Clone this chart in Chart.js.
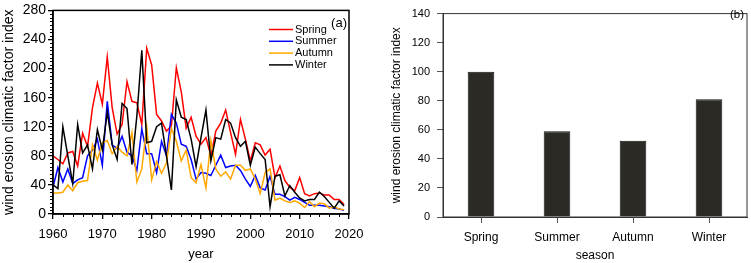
<!DOCTYPE html>
<html>
<head>
<meta charset="utf-8">
<script src="https://cdn.jsdelivr.net/npm/chart.js@4.4.0/dist/chart.umd.min.js"></script>
<style>
  html, body { margin: 0; padding: 0; background: #fff; }
  #wrap { position: relative; width: 751px; height: 263px; overflow: hidden; }
  #lineChart { position: absolute; left: 0; top: 0; }
  #barChart { position: absolute; left: 380px; top: 0; }
</style>
</head>
<body>
<div id="wrap">
  <canvas id="lineChart" width="375" height="263"></canvas>
  <canvas id="barChart" width="371" height="263"></canvas>
</div>
<script>
// data (a) - yearly index per season
var years = [1960, 1961, 1962, 1963, 1964, 1965, 1966, 1967, 1968, 1969,
             1970, 1971, 1972, 1973, 1974, 1975, 1976, 1977, 1978, 1979,
             1980, 1981, 1982, 1983, 1984, 1985, 1986, 1987, 1988, 1989,
             1990, 1991, 1992, 1993, 1994, 1995, 1996, 1997, 1998, 1999,
             2000, 2001, 2002, 2003, 2004, 2005, 2006, 2007, 2008, 2009,
             2010, 2011, 2012, 2013, 2014, 2015, 2016, 2017, 2018, 2019];

var spring = [80, 75, 69, 84, 86, 66, 111, 93, 146, 180,
              151, 216, 146, 110, 123, 182, 155, 153, 123, 228,
              205, 137, 128, 114, 121, 201, 168, 118, 133, 107,
              96, 105, 80, 114, 125, 143, 112, 82, 130, 103,
              73, 98, 95, 81, 89, 50, 66, 46, 37, 32,
              50, 28, 25, 28, 29, 26, 26, 20, 20, 13];

var summer = [37, 64, 44, 62, 42, 47, 50, 80, 88, 103,
              67, 155, 95, 90, 107, 85, 80, 60, 117, 83,
              83, 57, 100, 80, 137, 125, 96, 93, 75, 48,
              57, 56, 53, 67, 81, 64, 66, 67, 60, 48,
              38, 53, 36, 33, 52, 27, 27, 24, 19, 23,
              20, 16, 12, 12, 12, 11, 10, 8, 7, 5];

var autumn = [29, 29, 30, 40, 32, 43, 45, 46, 95, 74,
              98, 101, 83, 93, 85, 80, 112, 44, 62, 120,
              47, 72, 56, 70, 118, 100, 73, 88, 50, 43,
              68, 36, 101, 62, 52, 58, 48, 67, 67, 60,
              62, 48, 28, 57, 62, 19, 22, 18, 16, 18,
              15, 9, 17, 10, 15, 14, 8, 10, 7, 6];

var winter = [40, 35, 120, 80, 42, 123, 84, 95, 62, 116,
              88, 140, 95, 75, 152, 145, 68, 135, 225, 98,
              100, 120, 125, 80, 33, 157, 133, 130, 103, 65,
              105, 143, 73, 105, 103, 130, 125, 105, 93, 100,
              67, 92, 83, 75, 10, 52, 54, 25, 39, 30,
              22, 18, 20, 20, 30, 24, 16, 8, 18, 11];

var seriesNames = ['Spring', 'Summer', 'Autumn', 'Winter'];
var seriesColors = ['#ff0000', '#0000ff', '#ffa800', '#000000'];

// data (b) - seasonal mean
var seasons = ['Spring', 'Summer', 'Autumn', 'Winter'];
var seasonMean = [100, 59, 52.5, 81];

var yTicksA = [0, 280, 40];   // min, max, step
var yTicksB = [0, 140, 20];

var FONT = "'Liberation Sans', Arial, Helvetica, sans-serif";

function toPoints(vals) {
  return vals.map(function (v, i) { return { x: years[i], y: v }; });
}

// box around the plot area
var frame = {
  id: 'frame',
  afterDraw: function (chart, args, opts) {
    var a = chart.chartArea, ctx = chart.ctx;
    ctx.save();
    ctx.strokeStyle = opts.color || '#000';
    ctx.lineWidth = opts.width || 1;
    ctx.strokeRect(a.left, a.top, a.right - a.left, a.bottom - a.top);
    ctx.restore();
  }
};

// small ticks between the labelled ones (panel a)
var minorTicks = {
  id: 'minorTicks',
  afterDraw: function (chart) {
    var ctx = chart.ctx, xs = chart.scales.x, ys = chart.scales.y;
    var a = chart.chartArea;
    ctx.save();
    ctx.strokeStyle = '#000';
    ctx.lineWidth = 1;
    ctx.beginPath();
    for (var v = 5; v < 280; v += 5) {
      if (v % 40 === 0) continue;
      var py = Math.round(ys.getPixelForValue(v)) + 0.5;
      ctx.moveTo(a.left - 3, py);
      ctx.lineTo(a.left, py);
    }
    for (var yr = 1962; yr < 2020; yr += 2) {
      if (yr % 10 === 0) continue;
      var px = Math.round(xs.getPixelForValue(yr)) + 0.5;
      ctx.moveTo(px, a.bottom);
      ctx.lineTo(px, a.bottom + 3);
    }
    ctx.stroke();
    ctx.restore();
  }
};

// legend + panel tag (a)
var legendA = {
  id: 'legendA',
  afterDraw: function (chart) {
    var ctx = chart.ctx, a = chart.chartArea;
    ctx.save();
    ctx.font = '11px ' + FONT;
    ctx.textBaseline = 'middle';
    ctx.fillStyle = '#000';
    for (var i = 0; i < seriesNames.length; i++) {
      var y = 29.5 + i * 11.8;
      ctx.strokeStyle = seriesColors[i];
      ctx.lineWidth = 1.5;
      ctx.beginPath();
      ctx.moveTo(269, y);
      ctx.lineTo(293, y);
      ctx.stroke();
      ctx.fillText(seriesNames[i], 295, y);
    }
    ctx.font = '13px ' + FONT;
    ctx.textAlign = 'right';
    ctx.fillText('(a)', a.right - 2, 23);
    ctx.restore();
  }
};

var tagB = {
  id: 'tagB',
  afterDraw: function (chart) {
    var ctx = chart.ctx, a = chart.chartArea;
    ctx.save();
    ctx.font = '11.5px ' + FONT;
    ctx.textAlign = 'right';
    ctx.textBaseline = 'middle';
    ctx.fillStyle = '#000';
    ctx.fillText('(b)', a.right - 3, 15);
    ctx.restore();
  }
};

var order = [3, 2, 1, 0];
var lineSets = [spring, summer, autumn, winter].map(function (vals, i) {
  return {
    label: seriesNames[i],
    data: toPoints(vals),
    borderColor: seriesColors[i],
    backgroundColor: seriesColors[i],
    borderWidth: 1.5,
    pointRadius: 0,
    tension: 0,
    order: order[i]
  };
});

new Chart(document.getElementById('lineChart'), {
  type: 'line',
  data: { datasets: lineSets },
  options: {
    responsive: false,
    animation: false,
    layout: { padding: { left: 0, right: 26, top: 8, bottom: 0 } },
    plugins: {
      legend: { display: false },
      tooltip: { enabled: false },
      frame: { color: '#000', width: 1.5 }
    },
    scales: {
      x: {
        type: 'linear',
        min: 1960, max: 2020,
        ticks: {
          stepSize: 10, autoSkip: false, maxRotation: 0, color: '#000', padding: 8,
          font: { family: FONT, size: 13 },
          callback: function (v) { return String(v); }
        },
        grid: { drawOnChartArea: false, drawTicks: true, tickLength: 5, color: '#000', lineWidth: 1.3 },
        border: { display: true, color: '#000', width: 1.5 },
        title: { display: true, text: 'year', color: '#000', font: { family: FONT, size: 13 }, padding: { top: 0, bottom: 1 } },
        afterFit: function (s) { s.height = 49; }
      },
      y: {
        min: yTicksA[0], max: yTicksA[1],
        ticks: { stepSize: yTicksA[2], color: '#000', padding: 2, font: { family: FONT, size: 14 } },
        grid: { drawOnChartArea: false, drawTicks: true, tickLength: 5, color: '#000', lineWidth: 1.3 },
        border: { display: true, color: '#000', width: 1.5 },
        title: { display: true, text: 'wind erosion climatic factor index', color: '#000', font: { family: FONT, size: 14 }, padding: { top: 1, bottom: 0 } },
        afterFit: function (s) { s.width = 53; }
      }
    }
  },
  plugins: [frame, minorTicks, legendA]
});

new Chart(document.getElementById('barChart'), {
  type: 'bar',
  data: {
    labels: seasons,
    datasets: [{
      data: seasonMean,
      backgroundColor: '#2b2a25',
      borderColor: '#161512',
      borderWidth: 1,
      barPercentage: 0.35,
      categoryPercentage: 1
    }]
  },
  options: {
    responsive: false,
    animation: false,
    layout: { padding: { left: 0, right: 4, top: 7, bottom: 0 } },
    plugins: {
      legend: { display: false },
      tooltip: { enabled: false },
      frame: { color: '#333', width: 1 }
    },
    scales: {
      x: {
        ticks: { color: '#000', padding: 7, font: { family: FONT, size: 12 } },
        grid: { drawOnChartArea: false, drawTicks: true, tickLength: 6, color: '#555', lineWidth: 1, offset: false },
        border: { display: true, color: '#333', width: 1 },
        title: { display: true, text: 'season', color: '#000', font: { family: FONT, size: 12 }, padding: { top: 0, bottom: 0 } },
        afterFit: function (s) { s.height = 46; }
      },
      y: {
        min: yTicksB[0], max: yTicksB[1],
        ticks: { stepSize: yTicksB[2], color: '#000', padding: 7, font: { family: FONT, size: 11 } },
        grid: { drawOnChartArea: false, drawTicks: true, tickLength: 6, color: '#555', lineWidth: 1 },
        border: { display: true, color: '#333', width: 1 },
        title: { display: true, text: 'wind erosion climatic factor index', color: '#000', font: { family: FONT, size: 12 }, padding: { top: 9, bottom: 0 } },
        afterFit: function (s) { s.width = 63; }
      }
    }
  },
  plugins: [frame, tagB]
});
</script>
</body>
</html>
